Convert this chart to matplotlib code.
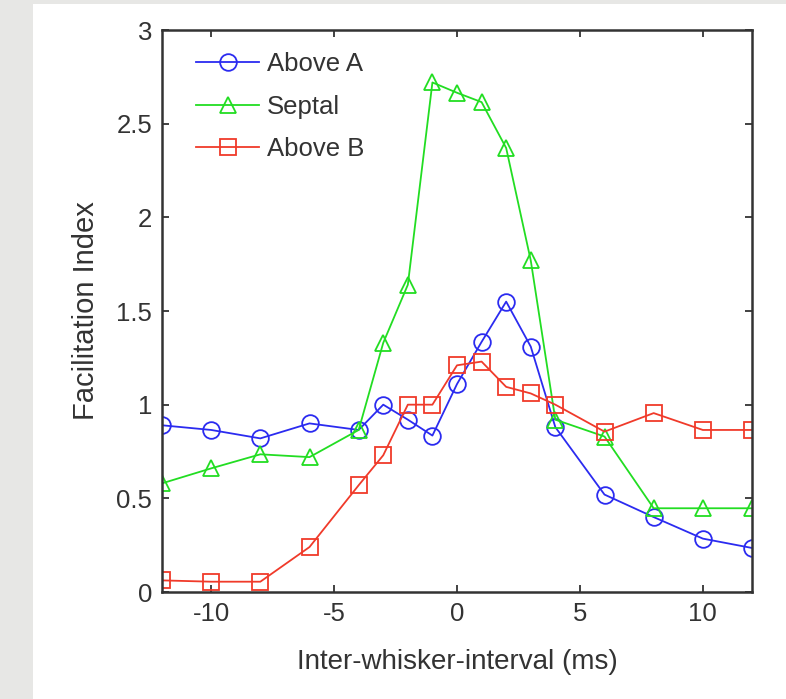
import matplotlib
matplotlib.use("Agg")
import matplotlib.pyplot as plt
from matplotlib.patches import Rectangle

# Inter-whisker intervals (ms)
interval_ms = [-12, -10, -8, -6, -4, -3, -2, -1, 0, 1, 2, 3, 4, 6, 8, 10, 12]

# Facilitation index per recording site
above_a = [0.89, 0.865, 0.82, 0.90, 0.865, 1.00, 0.92, 0.835, 1.11, 1.335,
           1.55, 1.31, 0.88, 0.52, 0.40, 0.285, 0.235]
septal = [0.58, 0.66, 0.735, 0.72, 0.865, 1.33, 1.64, 2.72, 2.665, 2.615,
          2.37, 1.77, 0.92, 0.83, 0.447, 0.447, 0.447]
above_b = [0.062, 0.055, 0.055, 0.24, 0.57, 0.73, 1.00, 1.00, 1.21, 1.23,
           1.095, 1.06, 1.00, 0.856, 0.955, 0.865, 0.865]

series_names = ["Above A", "Septal", "Above B"]

x_ticks = [-10, -5, 0, 5, 10]
x_tick_labels = ["-10", "-5", "0", "5", "10"]
y_ticks = [0, 0.5, 1, 1.5, 2, 2.5, 3]
y_tick_labels = ["0", "0.5", "1", "1.5", "2", "2.5", "3"]

plt.rcParams["font.family"] = ["Liberation Sans", "DejaVu Sans"]

fig = plt.figure(figsize=(7.86, 6.99), dpi=100)
fig.patch.set_facecolor("#e7e7e5")
# white page area to the right of the grey margin
fig.add_artist(Rectangle((33 / 786, 0), 1 - 33 / 786, 1 - 4 / 699,
                         transform=fig.transFigure, facecolor="white",
                         edgecolor="none", zorder=0))

ax = fig.add_axes([162 / 786, 1 - 592 / 699, 590 / 786, 562 / 699])
ax.set_facecolor("white")

style = dict(linewidth=1.3, markersize=12, markerfacecolor="none",
             markeredgewidth=1.3)
ax.plot(interval_ms, above_a, color="#2b2bf0", marker="o", label=series_names[0], **style)
ax.plot(interval_ms, septal, color="#22dd22", marker="^", label=series_names[1], **style)
ax.plot(interval_ms, above_b, color="#f03a2a", marker="s", label=series_names[2], **style)

ax.set_xlim(-12, 12)
ax.set_ylim(0, 3)
ax.set_xticks(x_ticks)
ax.set_xticklabels(x_tick_labels)
ax.set_yticks(y_ticks)
ax.set_yticklabels(y_tick_labels)

text_col = "#333333"
ax.tick_params(direction="in", top=True, right=True, length=5, width=1.3,
               colors="#333333", labelsize=18.5, labelcolor=text_col, pad=7)
for sp in ax.spines.values():
    sp.set_linewidth(1.8)
    sp.set_color("#333333")

ax.set_xlabel("Inter-whisker-interval (ms)", fontsize=20, color=text_col, labelpad=17)
ax.set_ylabel("Facilitation Index", fontsize=21, color=text_col, labelpad=12)

leg = ax.legend(loc="upper left", bbox_to_anchor=(0.017, 1.004), frameon=False,
                fontsize=18.5, handlelength=2.45, handletextpad=0.28,
                labelspacing=0.72, borderaxespad=0.55)
for t in leg.get_texts():
    t.set_color(text_col)

fig.savefig("out.png", dpi=100, facecolor=fig.get_facecolor())
